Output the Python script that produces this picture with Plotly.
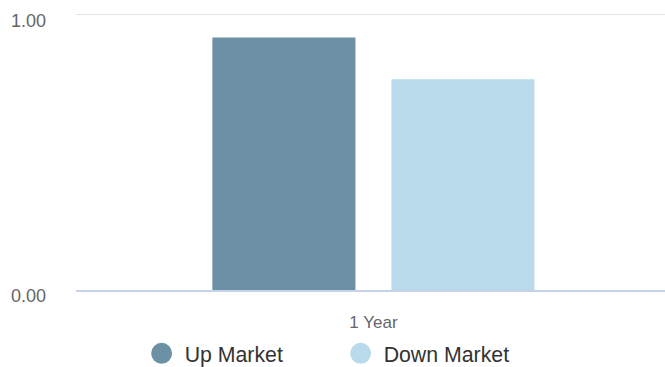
import plotly.graph_objects as go

categories = ["1 Year"]
series_names = ["Up Market", "Down Market"]
up_market = [0.917]
down_market = [0.765]
colors = ["#6C91A5", "#B8DAEB"]
y_tick_vals = [0, 1]
y_tick_text = ["0.00", "1.00"]

FONT = "Liberation Sans, Arial, sans-serif"

fig = go.Figure()
for name, vals, col in zip(series_names, [up_market, down_market], colors):
    fig.add_trace(go.Bar(x=categories, y=vals, name=name, marker=dict(color=col, line=dict(width=0)),
                         showlegend=False, legendgroup=name, hoverinfo="y+name"))
for name, col in zip(series_names, colors):
    fig.add_trace(go.Scatter(x=[None], y=[None], mode="markers", name=name, legendgroup=name,
                             marker=dict(symbol="circle", size=16, color=col, line=dict(color=col, width=5)),
                             showlegend=True))

fig.update_layout(
    width=665, height=367,
    margin=dict(l=76, r=0, t=8.5, b=76.5, autoexpand=False),
    paper_bgcolor="white", plot_bgcolor="white",
    barmode="group", bargap=0.392, bargroupgap=0.201,
    font=dict(family=FONT),
    showlegend=True,
    legend=dict(orientation="h", x=0.4442, xanchor="center", y=-0.226, yanchor="middle",
                font=dict(size=21.3, color="#333333"), entrywidth=148, entrywidthmode="pixels",
                itemsizing="trace", itemwidth=36, bgcolor="rgba(0,0,0,0)"),
)
fig.update_xaxes(range=[-0.505, 0.495], showgrid=False, showline=True, linecolor="#C6D2E8", linewidth=1.5,
                 tickfont=dict(size=17, color="#666666"), ticks="", ticklabelstandoff=16,
                 zeroline=False, fixedrange=True)
fig.update_yaxes(range=[0, 1.02], tickvals=y_tick_vals, ticktext=y_tick_text,
                 showgrid=True, gridcolor="#E3E3E3", gridwidth=1.2, zeroline=False, showline=False,
                 tickfont=dict(size=18, color="#666666"), ticklabelstandoff=29, ticklabelshift=6,
                 fixedrange=True)

fig.write_html("out.html", config=dict(displayModeBar=False))
